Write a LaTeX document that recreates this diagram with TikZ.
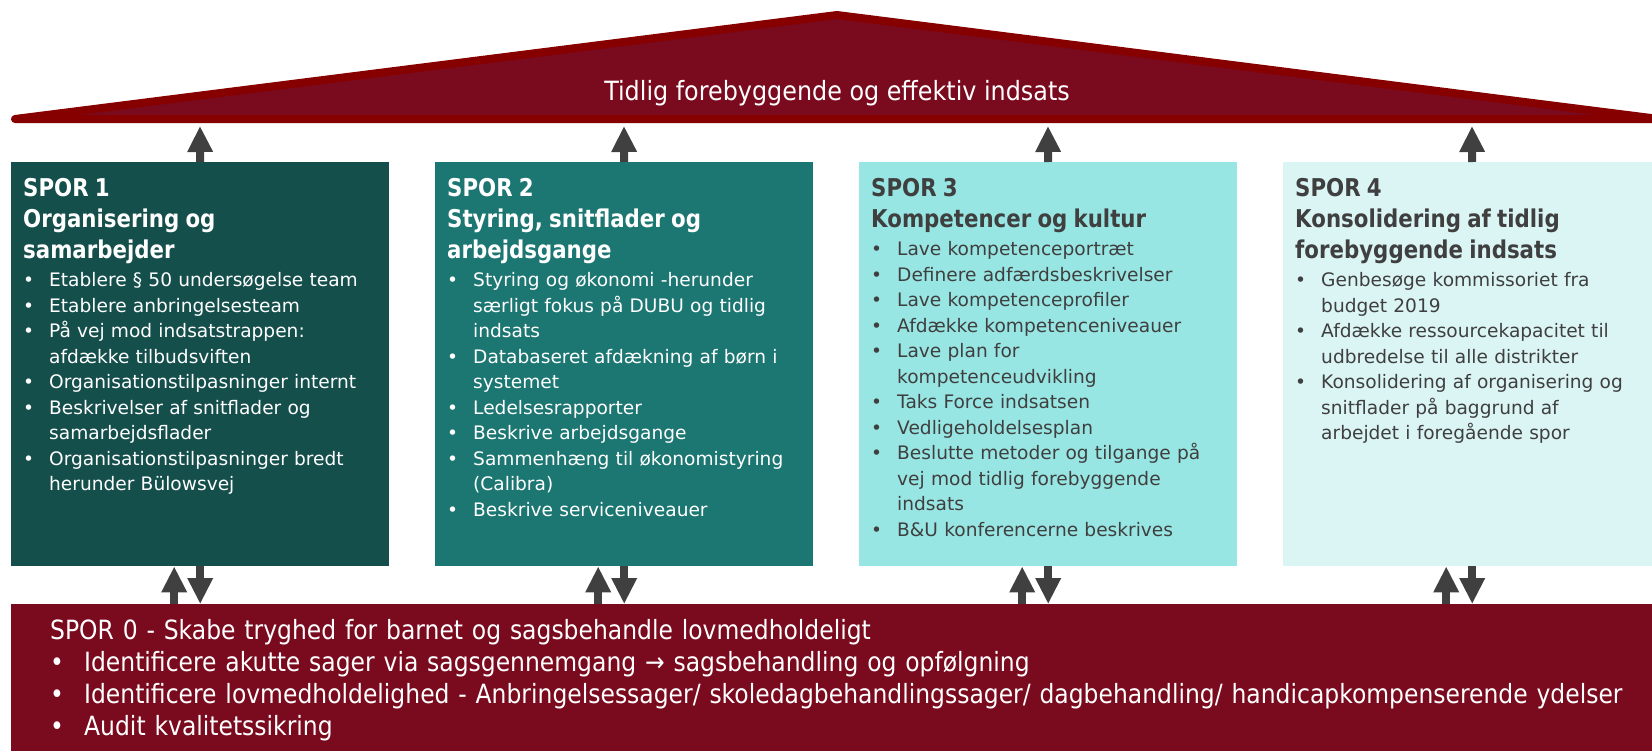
\documentclass[tikz,border=0pt]{standalone}
\usepackage{fontspec}
\setmainfont{DejaVu Sans}
\newfontfamily\narrowfont{DejaVu Sans}[FakeStretch=0.885]
\newfontfamily\rooffont{DejaVu Sans}[FakeStretch=0.9]
\newfontfamily\titlefont{DejaVu Sans}[FakeStretch=0.87]
\usetikzlibrary{arrows.meta}
\setlength{\parindent}{0pt}

\definecolor{sporred}{HTML}{7A0A1E}
\definecolor{roofedge}{HTML}{870000}
\definecolor{sporone}{HTML}{154F4C}
\definecolor{sportwo}{HTML}{1C7672}
\definecolor{sporthree}{HTML}{98E6E3}
\definecolor{sporfour}{HTML}{DBF5F5}
\definecolor{arrowgray}{HTML}{404040}
\definecolor{textgray}{HTML}{3F3F3F}

% bullet lines in the boxes
\newcommand{\sporitem}[1]{\par\hangindent=26pt\hangafter=1\makebox[26pt][l]{\textbullet}#1\par}
\newcommand{\sportitle}[1]{{\titlefont\bfseries\fontsize{24.5}{31}\selectfont #1\par}\vspace{3pt}\fontsize{18.6}{25.5}\selectfont}
\newcommand{\zeroitem}[1]{\par\makebox[34pt][l]{\textbullet}#1\par}

\tikzset{
  sporbox/.style={minimum width=378pt, minimum height=404pt, anchor=north west, inner sep=0pt},
  sportext/.style={anchor=north west, inner sep=0pt, text width=370pt, align=left,
    font=\fontsize{18.6}{25.5}\selectfont},
  sporarrow/.style={draw=arrowgray, line width=8pt, -{Triangle[width=24pt,length=26pt]}},
  redtext/.style={text=white, font=\narrowfont\fontsize{26.5}{32}\selectfont}
}

\begin{document}
\begin{tikzpicture}[x=1pt,y=-1pt]
  \useasboundingbox (0,0) rectangle (1652,750);
  \clip (0,0) rectangle (1652,750);

  % roof
  \draw[roofedge, fill=sporred, line width=8pt, line join=round]
    (15,119) -- (837,15) -- (1659,119) -- cycle;
  \node[redtext, font=\rooffont\fontsize{26.5}{32}\selectfont] (rooftxt) at (837,93)
    {Tidlig forebyggende og effektiv indsats};

  % the four tracks
  \node[sporbox, fill=sporone] (spor1) at (11,162) {};
  \node[sporbox, fill=sportwo] (spor2) at (435,162) {};
  \node[sporbox, fill=sporthree] (spor3) at (859,162) {};
  \node[sporbox, fill=sporfour] (spor4) at (1283,162) {};

  \node[sportext, text=white] (spor1txt) at (23,178) {%
    \sportitle{SPOR 1\\Organisering og\\samarbejder}
    \sporitem{Etablere § 50 undersøgelse team}
    \sporitem{Etablere anbringelsesteam}
    \sporitem{På vej mod indsatstrappen:\newline afdække tilbudsviften}
    \sporitem{Organisationstilpasninger internt}
    \sporitem{Beskrivelser af snitflader og\newline samarbejdsflader}
    \sporitem{Organisationstilpasninger bredt\newline herunder Bülowsvej}};

  \node[sportext, text=white] (spor2txt) at (447,178) {%
    \sportitle{SPOR 2\\Styring, snitflader og\\arbejdsgange}
    \sporitem{Styring og økonomi -herunder\newline særligt fokus på DUBU og tidlig\newline indsats}
    \sporitem{Databaseret afdækning af børn i\newline systemet}
    \sporitem{Ledelsesrapporter}
    \sporitem{Beskrive arbejdsgange}
    \sporitem{Sammenhæng til økonomistyring\newline (Calibra)}
    \sporitem{Beskrive serviceniveauer}};

  \node[sportext, text=textgray] (spor3txt) at (871,178) {%
    \sportitle{SPOR 3\\Kompetencer og kultur}
    \sporitem{Lave kompetenceportræt}
    \sporitem{Definere adfærdsbeskrivelser}
    \sporitem{Lave kompetenceprofiler}
    \sporitem{Afdække kompetenceniveauer}
    \sporitem{Lave plan for\newline kompetenceudvikling}
    \sporitem{Taks Force indsatsen}
    \sporitem{Vedligeholdelsesplan}
    \sporitem{Beslutte metoder og tilgange på\newline vej mod tidlig forebyggende\newline indsats}
    \sporitem{B\&U konferencerne beskrives}};

  \node[sportext, text=textgray] (spor4txt) at (1295,178) {%
    \sportitle{SPOR 4\\Konsolidering af tidlig\\forebyggende indsats}
    \sporitem{Genbesøge kommissoriet fra\newline budget 2019}
    \sporitem{Afdække ressourcekapacitet til\newline udbredelse til alle distrikter}
    \sporitem{Konsolidering af organisering og\newline snitflader på baggrund af\newline arbejdet i foregående spor}};

  % track 0 at the bottom
  \node[anchor=north west, minimum width=1660pt, minimum height=160pt, inner sep=0pt,
    fill=sporred] (spor0) at (11,604) {};
  \node[redtext, anchor=north west, inner sep=0pt, text width=1600pt, align=left]
    (spor0txt) at (50,619) {%
    SPOR 0 - Skabe tryghed for barnet og sagsbehandle lovmedholdeligt
    \zeroitem{Identificere akutte sager via sagsgennemgang → sagsbehandling og opfølgning}
    \zeroitem{Identificere lovmedholdelighed - Anbringelsessager/ skoledagbehandlingssager/ dagbehandling/ handicapkompenserende ydelser}
    \zeroitem{Audit kvalitetssikring}};

  % arrows
  \foreach \n/\x in {1/200,2/624,3/1048,4/1472} {
    \coordinate (roof\n) at (\x,126);
    \coordinate (up\n) at ([xshift=-26pt]spor\n.south);
    \draw[sporarrow] (spor\n.north) -- (roof\n);
    \draw[sporarrow] (spor\n.south) -- (spor\n.south |- spor0.north);
    \draw[sporarrow] (up\n |- spor0.north) -- (up\n);
  }
\end{tikzpicture}
\end{document}
